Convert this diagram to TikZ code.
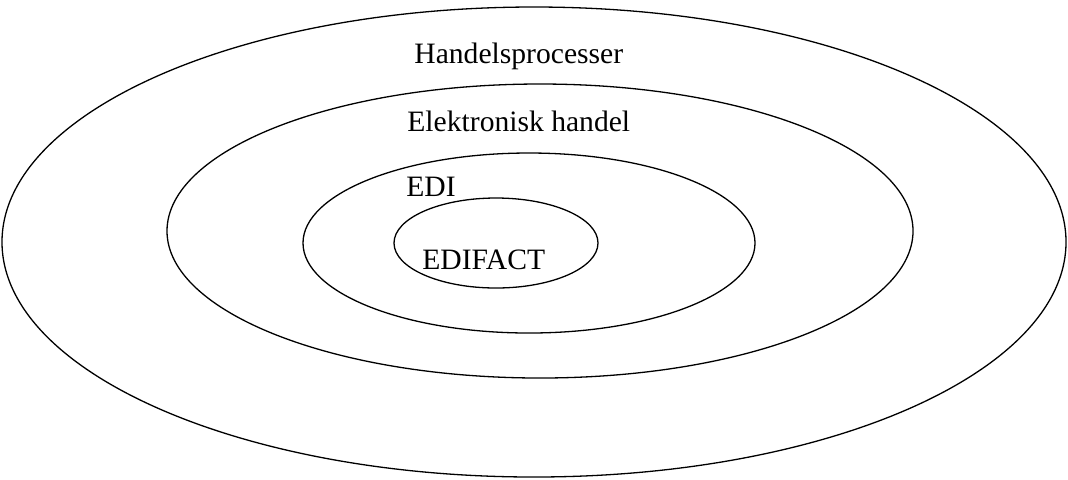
\documentclass[tikz,border=0pt]{standalone}
\usepackage{fontspec}
\setmainfont{Liberation Serif}
\usetikzlibrary{shapes.geometric,positioning}
\tikzset{
    ringBase/.style={
        ellipse,
        draw=black,
        line width=0.65pt,
        inner sep=0pt
    },
    ringLabel/.style={
        font=\fontsize{14.8}{17}\selectfont,
        inner sep=0pt,
        anchor=base west
    }
}
\begin{document}
\begin{tikzpicture}[x=0.5pt, y=-0.5pt]
\useasboundingbox (0,0) rectangle (1068,479);

% --- Rings, outer to inner ---
\node[ringBase, minimum width=532pt, minimum height=235pt] (handel) at (534, 242) {};
\node[ringBase, minimum width=373pt, minimum height=147pt] (elhandel) at (540, 231) {};
\node[ringBase, minimum width=226pt, minimum height=90pt] (edi) at (529, 243) {};
\node[ringBase, minimum width=102pt, minimum height=45pt] (edifact) at (496, 243) {};

% --- Labels ---
\node[ringLabel] (lblHandel) at (414, 63) {Handelsprocesser};
\node[ringLabel] (lblElhandel) at (407, 131) {Elektronisk handel};
\node[ringLabel] (lblEdi) at (406, 196) {EDI};
\node[ringLabel] (lblEdifact) at (422, 269) {EDIFACT};

\end{tikzpicture}
\end{document}
